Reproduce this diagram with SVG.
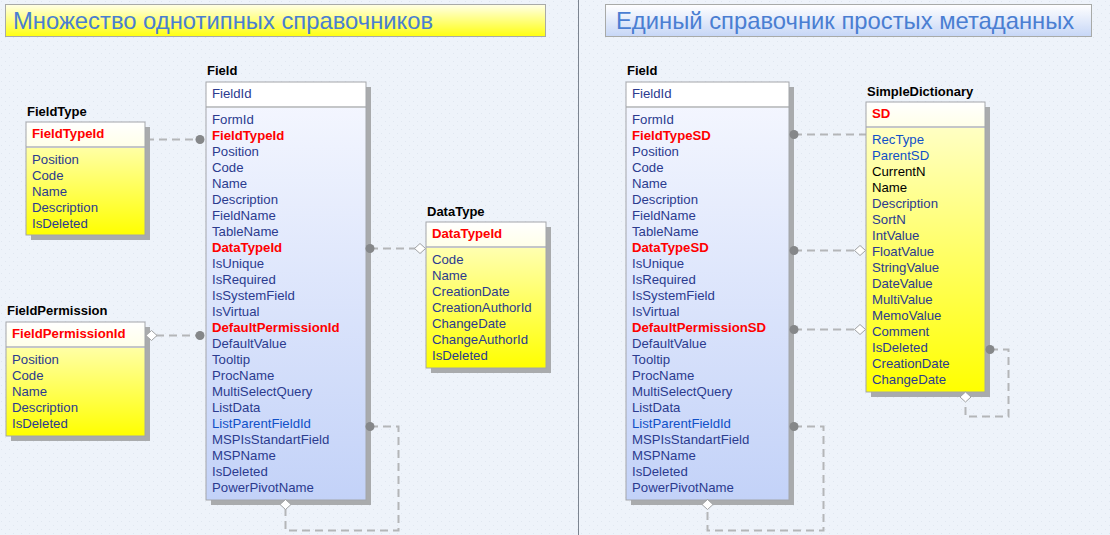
<svg xmlns="http://www.w3.org/2000/svg" width="1110" height="535" viewBox="0 0 1110 535">
<defs>
<pattern id="bgp" width="8" height="8" patternUnits="userSpaceOnUse">
<rect width="8" height="8" fill="#eef3fa"/>
<path d="M1 1 L2 2 M5 5 L6 6" stroke="#dce3ee" stroke-width="0.8"/>
</pattern>
<linearGradient id="yBody" x1="0" y1="0" x2="0" y2="1"><stop offset="0" stop-color="#ffffd6"/><stop offset="1" stop-color="#ffff00"/></linearGradient>
<linearGradient id="yHead" x1="0" y1="0" x2="0" y2="1"><stop offset="0" stop-color="#ffffff"/><stop offset="1" stop-color="#ffffe8"/></linearGradient>
<linearGradient id="bBody" x1="0" y1="0" x2="0" y2="1"><stop offset="0" stop-color="#f6f8ff"/><stop offset="1" stop-color="#c3d2f8"/></linearGradient>
<linearGradient id="tYellow" x1="0" y1="0" x2="0" y2="1"><stop offset="0" stop-color="#ffffe8"/><stop offset="1" stop-color="#ffff10"/></linearGradient>
<linearGradient id="tBlue" x1="0" y1="0" x2="0" y2="1"><stop offset="0" stop-color="#ffffff"/><stop offset="1" stop-color="#c6d6f6"/></linearGradient>
</defs>
<style>
.title{font-family:"Liberation Sans",Arial,sans-serif;font-size:23.8px;fill:#4a7ed2}
.name{font-family:"Liberation Sans",Arial,sans-serif;font-size:13px;font-weight:bold;fill:#000}
.row{font-family:"Liberation Sans",Arial,sans-serif;font-size:13.2px;fill:#2b3b8f}
.key{font-family:"Liberation Sans",Arial,sans-serif;font-size:13.2px;font-weight:bold;fill:#ff0000}
.lnk{fill:#1050c8}
.blk{fill:#000}
.shadow{fill:#a9abad}
.border{fill:none;stroke:#a3a6aa;stroke-width:1}
.sep{stroke:#c4c6c8;stroke-width:2}
.conn{fill:none;stroke:#b4b6b8;stroke-width:2;stroke-dasharray:8 5}
.dot{fill:#858789}
.dia{fill:#ffffff;stroke:#a0a2a4;stroke-width:1}
</style>
<rect width="1110" height="535" fill="url(#bgp)"/>
<line x1="578.5" y1="0" x2="578.5" y2="535" stroke="#7c8490" stroke-width="1"/>

<g id="title-left">
<rect x="5.5" y="4.5" width="540" height="32" fill="url(#tYellow)" stroke="#a8aaa8"/>
<text class="title" x="13" y="29">Множество однотипных справочников</text>
</g>
<g id="title-right">
<rect x="605.5" y="4.5" width="486" height="32" fill="url(#tBlue)" stroke="#a8aaa8"/>
<text class="title" x="616" y="29">Единый справочник простых метаданных</text>
</g>

<g id="connectors">
<path class="conn" d="M146 139.5 H200"/>
<path class="conn" d="M156 335.5 H200"/>
<path class="conn" d="M370 248.5 H415"/>
<path class="conn" d="M370 426.5 H398.5 V530.5 H285.5 V509"/>
<path class="conn" d="M794 134.5 H866"/>
<path class="conn" d="M794 250.5 H855"/>
<path class="conn" d="M794 329.5 H855"/>
<path class="conn" d="M794 426.5 H823.5 V530.5 H707.5 V509"/>
<path class="conn" d="M990 349.5 H1008.5 V416.5 H965.5 V402"/>
</g>

<g id="FieldType">
<rect class="shadow" x="31" y="127" width="119" height="113"/>
<rect x="26" y="122" width="119" height="113" fill="url(#yBody)"/>
<rect x="26" y="122" width="119" height="25" fill="url(#yHead)"/>
<line class="sep" x1="26" y1="147" x2="145" y2="147"/>
<rect class="border" x="26" y="122" width="119" height="113"/>
<text class="name" x="27" y="116">FieldType</text>
<text class="key" x="32" y="138">FieldTypeId</text>
<text class="row" x="32" y="164">Position</text>
<text class="row" x="32" y="180">Code</text>
<text class="row" x="32" y="196">Name</text>
<text class="row" x="32" y="212">Description</text>
<text class="row" x="32" y="228">IsDeleted</text>
</g>

<g id="FieldPermission">
<rect class="shadow" x="11" y="327" width="139" height="114"/>
<rect x="6" y="322" width="139" height="114" fill="url(#yBody)"/>
<rect x="6" y="322" width="139" height="25" fill="url(#yHead)"/>
<line class="sep" x1="6" y1="347" x2="145" y2="347"/>
<rect class="border" x="6" y="322" width="139" height="114"/>
<text class="name" x="7" y="315">FieldPermission</text>
<text class="key" x="12" y="338">FieldPermissionId</text>
<text class="row" x="12" y="364">Position</text>
<text class="row" x="12" y="380">Code</text>
<text class="row" x="12" y="396">Name</text>
<text class="row" x="12" y="412">Description</text>
<text class="row" x="12" y="428">IsDeleted</text>
</g>

<g id="Field-left">
<rect class="shadow" x="211" y="87" width="160" height="418"/>
<rect x="206" y="82" width="160" height="418" fill="url(#bBody)"/>
<rect x="206" y="82" width="160" height="25" fill="#ffffff"/>
<line class="sep" x1="206" y1="107" x2="366" y2="107"/>
<rect class="border" x="206" y="82" width="160" height="418"/>
<text class="name" x="207" y="75">Field</text>
<text class="row" x="212" y="98">FieldId</text>
<text class="row" x="212" y="124">FormId</text>
<text class="key" x="212" y="140">FieldTypeId</text>
<text class="row" x="212" y="156">Position</text>
<text class="row" x="212" y="172">Code</text>
<text class="row" x="212" y="188">Name</text>
<text class="row" x="212" y="204">Description</text>
<text class="row" x="212" y="220">FieldName</text>
<text class="row" x="212" y="236">TableName</text>
<text class="key" x="212" y="252">DataTypeId</text>
<text class="row" x="212" y="268">IsUnique</text>
<text class="row" x="212" y="284">IsRequired</text>
<text class="row" x="212" y="300">IsSystemField</text>
<text class="row" x="212" y="316">IsVirtual</text>
<text class="key" x="212" y="332">DefaultPermissionId</text>
<text class="row" x="212" y="348">DefaultValue</text>
<text class="row" x="212" y="364">Tooltip</text>
<text class="row" x="212" y="380">ProcName</text>
<text class="row" x="212" y="396">MultiSelectQuery</text>
<text class="row" x="212" y="412">ListData</text>
<text class="row lnk" x="212" y="428">ListParentFieldId</text>
<text class="row" x="212" y="444">MSPIsStandartField</text>
<text class="row" x="212" y="460">MSPName</text>
<text class="row" x="212" y="476">IsDeleted</text>
<text class="row" x="212" y="492">PowerPivotName</text>
</g>

<g id="DataType">
<rect class="shadow" x="431" y="227" width="120" height="146"/>
<rect x="426" y="222" width="120" height="146" fill="url(#yBody)"/>
<rect x="426" y="222" width="120" height="25" fill="url(#yHead)"/>
<line class="sep" x1="426" y1="247" x2="546" y2="247"/>
<rect class="border" x="426" y="222" width="120" height="146"/>
<text class="name" x="427" y="216">DataType</text>
<text class="key" x="432" y="238">DataTypeId</text>
<text class="row" x="432" y="264">Code</text>
<text class="row" x="432" y="280">Name</text>
<text class="row" x="432" y="296">CreationDate</text>
<text class="row" x="432" y="312">CreationAuthorId</text>
<text class="row" x="432" y="328">ChangeDate</text>
<text class="row" x="432" y="344">ChangeAuthorId</text>
<text class="row" x="432" y="360">IsDeleted</text>
</g>

<g id="Field-right">
<rect class="shadow" x="631" y="87" width="163" height="418"/>
<rect x="626" y="82" width="163" height="418" fill="url(#bBody)"/>
<rect x="626" y="82" width="163" height="25" fill="#ffffff"/>
<line class="sep" x1="626" y1="107" x2="789" y2="107"/>
<rect class="border" x="626" y="82" width="163" height="418"/>
<text class="name" x="627" y="75">Field</text>
<text class="row" x="632" y="98">FieldId</text>
<text class="row" x="632" y="124">FormId</text>
<text class="key" x="632" y="140">FieldTypeSD</text>
<text class="row" x="632" y="156">Position</text>
<text class="row" x="632" y="172">Code</text>
<text class="row" x="632" y="188">Name</text>
<text class="row" x="632" y="204">Description</text>
<text class="row" x="632" y="220">FieldName</text>
<text class="row" x="632" y="236">TableName</text>
<text class="key" x="632" y="252">DataTypeSD</text>
<text class="row" x="632" y="268">IsUnique</text>
<text class="row" x="632" y="284">IsRequired</text>
<text class="row" x="632" y="300">IsSystemField</text>
<text class="row" x="632" y="316">IsVirtual</text>
<text class="key" x="632" y="332">DefaultPermissionSD</text>
<text class="row" x="632" y="348">DefaultValue</text>
<text class="row" x="632" y="364">Tooltip</text>
<text class="row" x="632" y="380">ProcName</text>
<text class="row" x="632" y="396">MultiSelectQuery</text>
<text class="row" x="632" y="412">ListData</text>
<text class="row lnk" x="632" y="428">ListParentFieldId</text>
<text class="row" x="632" y="444">MSPIsStandartField</text>
<text class="row" x="632" y="460">MSPName</text>
<text class="row" x="632" y="476">IsDeleted</text>
<text class="row" x="632" y="492">PowerPivotName</text>
</g>

<g id="SimpleDictionary">
<rect class="shadow" x="871" y="107" width="119" height="290"/>
<rect x="866" y="102" width="119" height="290" fill="url(#yBody)"/>
<rect x="866" y="102" width="119" height="25" fill="url(#yHead)"/>
<line class="sep" x1="866" y1="127" x2="985" y2="127"/>
<rect class="border" x="866" y="102" width="119" height="290"/>
<text class="name" x="867" y="96">SimpleDictionary</text>
<text class="key" x="872" y="118">SD</text>
<text class="row lnk" x="872" y="144">RecType</text>
<text class="row lnk" x="872" y="160">ParentSD</text>
<text class="row blk" x="872" y="176">CurrentN</text>
<text class="row blk" x="872" y="192">Name</text>
<text class="row" x="872" y="208">Description</text>
<text class="row" x="872" y="224">SortN</text>
<text class="row" x="872" y="240">IntValue</text>
<text class="row" x="872" y="256">FloatValue</text>
<text class="row" x="872" y="272">StringValue</text>
<text class="row" x="872" y="288">DateValue</text>
<text class="row" x="872" y="304">MultiValue</text>
<text class="row" x="872" y="320">MemoValue</text>
<text class="row" x="872" y="336">Comment</text>
<text class="row" x="872" y="352">IsDeleted</text>
<text class="row" x="872" y="368">CreationDate</text>
<text class="row" x="872" y="384">ChangeDate</text>
</g>

<g id="ends">
<circle class="dot" cx="200" cy="139.5" r="4.5"/>
<polygon class="dia" points="146,335.5 151.5,330.5 157,335.5 151.5,340.5"/>
<circle class="dot" cx="200" cy="335.5" r="4.5"/>
<circle class="dot" cx="370" cy="248.5" r="4.5"/>
<polygon class="dia" points="414.5,248.5 420,243.5 425.5,248.5 420,253.5"/>
<circle class="dot" cx="370" cy="426.5" r="4.5"/>
<polygon class="dia" points="280,504.5 285.5,499.5 291,504.5 285.5,509.5"/>
<circle class="dot" cx="794" cy="134.5" r="4.5"/>
<circle class="dot" cx="794" cy="250.5" r="4.5"/>
<polygon class="dia" points="854.5,250.5 860,245.5 865.5,250.5 860,255.5"/>
<circle class="dot" cx="794" cy="329.5" r="4.5"/>
<polygon class="dia" points="854.5,329.5 860,324.5 865.5,329.5 860,334.5"/>
<circle class="dot" cx="794" cy="426.5" r="4.5"/>
<polygon class="dia" points="702,504.5 707.5,499.5 713,504.5 707.5,509.5"/>
<circle class="dot" cx="990" cy="349.5" r="4.5"/>
<polygon class="dia" points="960,397 965.5,392 971,397 965.5,402"/>
</g>
</svg>
